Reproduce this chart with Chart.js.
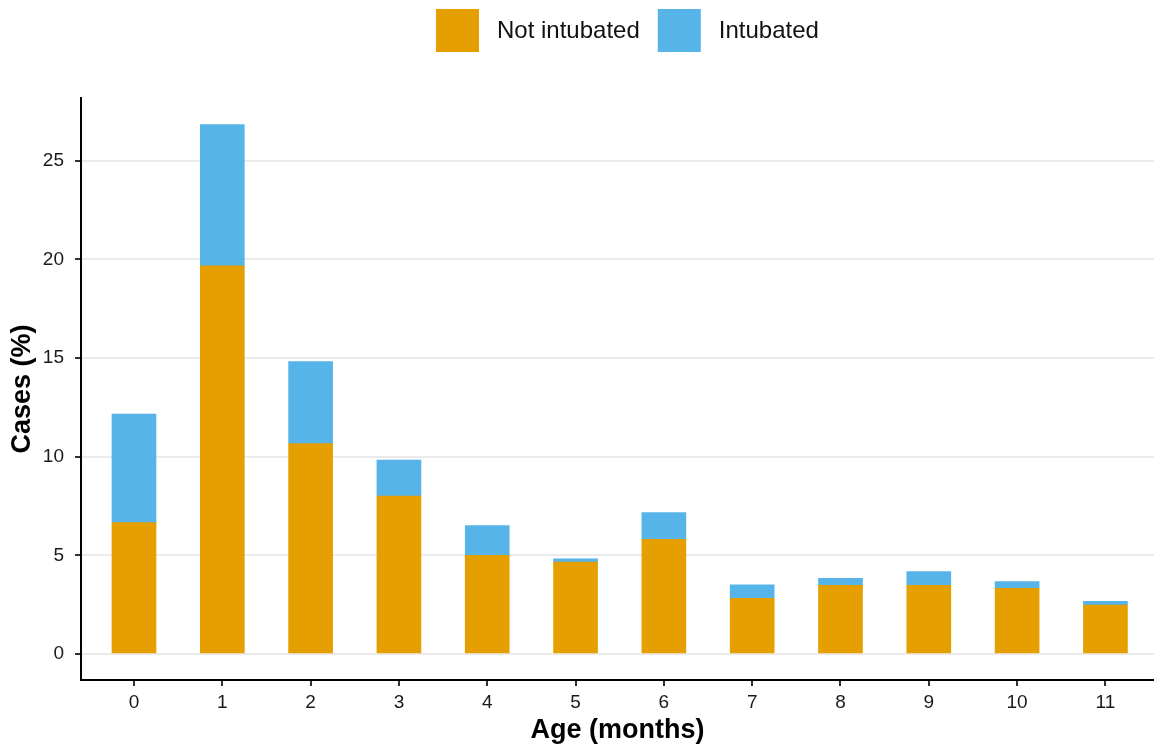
<!DOCTYPE html>
<html>
<head>
<meta charset="utf-8">
<script src="https://cdn.jsdelivr.net/npm/chart.js@4.4.1/dist/chart.umd.min.js"></script>
<style>
  html, body { margin: 0; padding: 0; background: #ffffff; }
  #wrap { width: 1154px; height: 752px; position: relative; }
</style>
</head>
<body>
<div id="wrap"><canvas id="c"></canvas></div>
<script>
// ---- data ----
const ages = ['0', '1', '2', '3', '4', '5', '6', '7', '8', '9', '10', '11'];
const notIntubated = [6.66, 19.67, 10.66, 8.00, 5.00, 4.66, 5.81, 2.82, 3.48, 3.48, 3.33, 2.48];
const intubated = [5.50, 7.16, 4.16, 1.83, 1.51, 0.16, 1.36, 0.68, 0.35, 0.69, 0.34, 0.19];
const yTicks = [0, 5, 10, 15, 20, 25];
const seriesNames = ['Not intubated', 'Intubated'];
const xTitle = 'Age (months)';
const yTitle = 'Cases (%)';

const FONT = '"Liberation Sans", Arial, Helvetica, sans-serif';
const ORANGE = '#E69F00';
const BLUE = '#56B4E9';

const toPoints = arr => arr.map((v, i) => ({ x: Number(ages[i]), y: v }));

const legendPlugin = {
  id: 'topLegend',
  afterDraw(chart) {
    const ctx = chart.ctx;
    ctx.save();
    ctx.font = '24px ' + FONT;
    ctx.textBaseline = 'middle';
    ctx.textAlign = 'left';
    const box = 43, boxTop = 9, gap = 18, itemGap = 18;
    let x = 436;
    chart.data.datasets.forEach(ds => {
      ctx.fillStyle = ds.backgroundColor;
      ctx.fillRect(x, boxTop, box, box);
      x += box + gap;
      ctx.fillStyle = '#111';
      ctx.fillText(ds.label, x, boxTop + box / 2 + 1);
      x += ctx.measureText(ds.label).width + itemGap;
    });
    ctx.restore();
  }
};

new Chart(document.getElementById('c'), {
  type: 'bar',
  data: {
    datasets: [
      { label: seriesNames[0], data: toPoints(notIntubated), backgroundColor: ORANGE, borderWidth: 0, barThickness: 44 },
      { label: seriesNames[1], data: toPoints(intubated), backgroundColor: BLUE, borderWidth: 0, barThickness: 44 }
    ]
  },
  options: {
    responsive: true,
    maintainAspectRatio: false,
    animation: false,
    layout: { padding: { top: 98, right: 0, bottom: 0, left: 0 } },
    plugins: {
      legend: { display: false },
      tooltip: { enabled: false }
    },
    scales: {
      x: {
        type: 'linear',
        stacked: true,
        offset: false,
        min: -0.6,
        max: 11.55,
        afterBuildTicks: s => { s.ticks = ages.map(a => ({ value: Number(a) })); },
        afterFit: s => { s.height = 72; },
        ticks: {
          callback: v => ages[ages.findIndex(a => Number(a) === v)],
          color: '#1a1a1a',
          font: { family: FONT, size: 19 },
          padding: 5,
          maxRotation: 0,
          autoSkip: false
        },
        grid: { offset: false, drawOnChartArea: false, drawTicks: true, tickLength: 6, tickColor: '#333', tickWidth: 2, lineWidth: 2 },
        border: { display: true, color: '#000', width: 2 },
        title: { display: true, text: xTitle, color: '#000', font: { family: FONT, size: 27, weight: 'bold' }, padding: { top: 0, bottom: 5 } }
      },
      y: {
        type: 'linear',
        stacked: true,
        min: -1.32,
        max: 28.18,
        afterBuildTicks: s => { s.ticks = yTicks.map(v => ({ value: v })); },
        afterFit: s => { s.width = 81; },
        ticks: {
          color: '#1a1a1a',
          font: { family: FONT, size: 19 },
          padding: 11
        },
        grid: { color: '#ebebeb', lineWidth: 2, drawTicks: true, tickLength: 6, tickColor: '#333', tickWidth: 2 },
        border: { display: true, color: '#000', width: 2 },
        title: { display: true, text: yTitle, color: '#000', font: { family: FONT, size: 27, weight: 'bold' }, padding: { top: 6, bottom: 0 } }
      }
    }
  },
  plugins: [legendPlugin]
});
</script>
</body>
</html>
